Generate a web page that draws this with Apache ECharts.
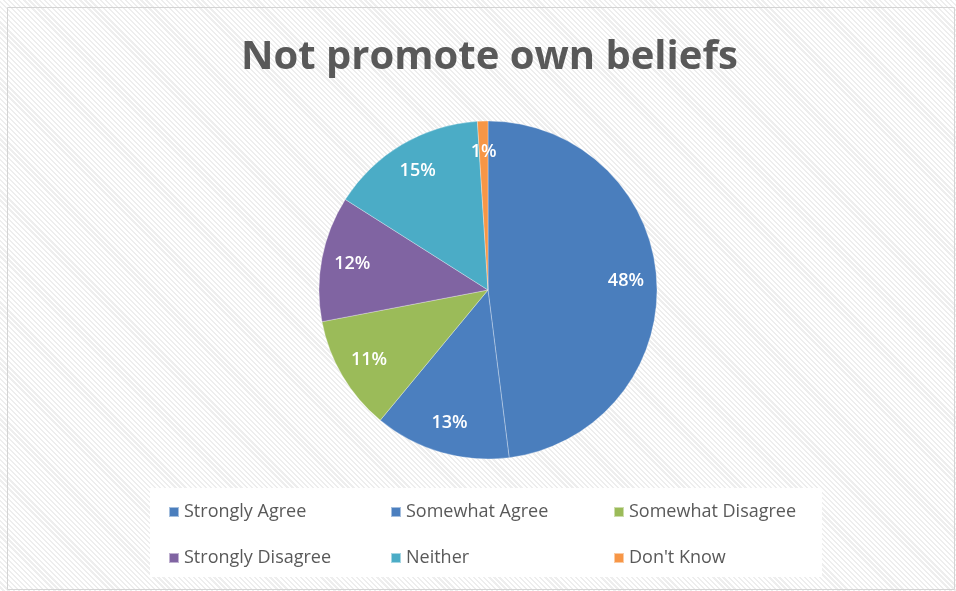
<!DOCTYPE html>
<html>
<head>
<meta charset="utf-8">
<script src="https://cdn.jsdelivr.net/npm/echarts@6/dist/echarts.min.js"></script>
<style>
  html, body { margin: 0; padding: 0; background: #fff; }
  #chart {
    width: 956px; height: 591px;
    background: repeating-linear-gradient(45deg, #ffffff 0px, #ffffff 2px, #eeeeee 2px, #eeeeee 3.6px);
  }
</style>
</head>
<body>
<div id="chart"></div>
<script>
const categories = ['Strongly Agree', 'Somewhat Agree', 'Somewhat Disagree', 'Strongly Disagree', 'Neither', "Don't Know"];
const values = [48, 13, 11, 12, 15, 1];
const colors = ['#4a7ebd', '#4b7fbf', '#9bbb59', '#8064a2', '#4bacc6', '#f79646'];

const chart = echarts.init(document.getElementById('chart'));
const pieData = categories.map((name, i) => ({ name: name, value: values[i] }));
const center = [488, 290];
const R = 169;

const legendCommon = {
  orient: 'vertical',
  top: 497,
  itemWidth: 10,
  itemHeight: 10,
  itemGap: 26,
  icon: 'rect',
  selectedMode: false,
  textStyle: { fontFamily: 'Open Sans', fontSize: 18, color: '#595959', lineHeight: 20 }
};

chart.setOption({
  color: colors,
  animation: false,
  title: {
    text: 'Not promote own beliefs',
    left: 236,
    top: 33,
    textStyle: { fontFamily: 'Open Sans', fontWeight: 'bold', fontSize: 40, color: '#595959' }
  },
  graphic: [
    { type: 'rect', shape: { x: 7.5, y: 7.5, width: 947, height: 582 }, style: { fill: 'none', stroke: '#d4d4d4', lineWidth: 1 }, silent: true },
    { type: 'rect', shape: { x: 150, y: 488, width: 672, height: 89 }, style: { fill: '#ffffff' }, silent: true, z: -1 }
  ],
  legend: [
    Object.assign({ left: 163, data: [categories[0], categories[3]] }, legendCommon),
    Object.assign({ left: 385, data: [categories[1], categories[4]] }, legendCommon),
    Object.assign({ left: 608, data: [categories[2], categories[5]] }, legendCommon)
  ],
  series: [
    {
      type: 'pie',
      center: center,
      radius: R,
      startAngle: 90,
      clockwise: true,
      label: { show: false },
      labelLine: { show: false },
      itemStyle: { borderColor: 'rgba(255,255,255,0.5)', borderWidth: 0.6 },
      emphasis: { disabled: true },
      data: pieData
    },
    {
      // transparent ring so labels sit at ~0.8 of the radius like the original
      type: 'pie',
      center: center,
      radius: [R * 0.6, R],
      startAngle: 90,
      clockwise: true,
      silent: true,
      itemStyle: { color: 'rgba(0,0,0,0)' },
      label: {
        show: true,
        position: 'inside',
        formatter: p => p.value + '%',
        fontFamily: 'Open Sans',
        fontSize: 18,
        fontWeight: 600,
        color: '#ffffff'
      },
      labelLine: { show: false },
      emphasis: { disabled: true },
      data: pieData
    }
  ]
});
</script>
</body>
</html>
